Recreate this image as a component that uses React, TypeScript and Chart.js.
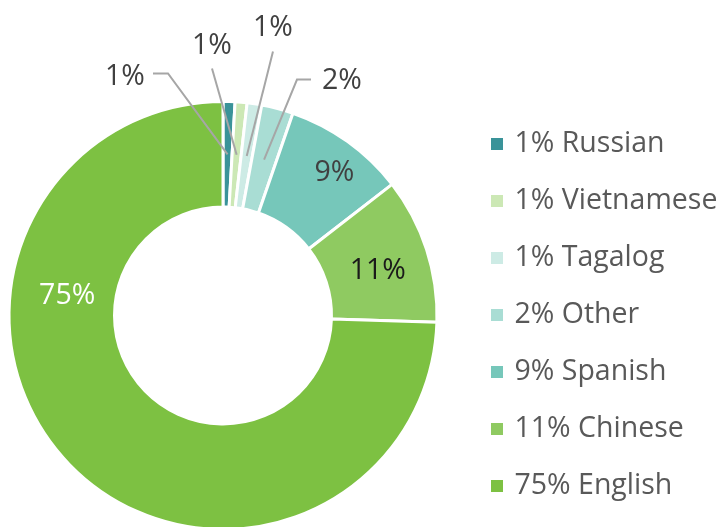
import React, { useEffect, useRef } from "react";
import { Chart, registerables } from "chart.js";
Chart.register(...registerables);

const categories = ["Russian", "Vietnamese", "Tagalog", "Other", "Spanish", "Chinese", "English"];
const values = [0.9, 0.9, 1.1, 2.4, 9.2, 11.0, 74.5];
const percentLabels = ["1%", "1%", "1%", "2%", "9%", "11%", "75%"];
const colors = ["#3A9399", "#CCE8B5", "#CDEBE5", "#A9DDD4", "#76C7BA", "#8FCA61", "#7DC142"];
const labelColors = ["#404040", "#404040", "#404040", "#404040", "#404040", "#1A1A1A", "#FFFFFF"];

// label placement (style): outside labels with leader lines, relative to doughnut centre
const outsidePlacement: Record<number, { text: [number, number]; start: [number, number]; elbow?: [number, number] }> = {
  0: { text: [-98, -239], start: [-70, -242], elbow: [-55, -242] },
  1: { text: [-11, -270], start: [-11, -247] },
  2: { text: [50, -288], start: [50, -264] },
  3: { text: [119, -235], start: [88, -236], elbow: [74, -236] },
};
// inside labels: polar (degrees clockwise from top, distance)
const insidePlacement: Record<number, [number, number]> = {
  4: [38, 181],
  5: [74, 161],
  6: [277, 157],
};

const FONT = "'Open Sans', 'Noto Sans', sans-serif";
const FONT_SIZE = 28.5;

const labelPlugin = {
  id: "customLabels",
  afterDatasetsDraw(chart: any) {
    const ctx = chart.ctx;
    const meta = chart.getDatasetMeta(0);
    ctx.save();
    ctx.font = `${FONT_SIZE}px ${FONT}`;
    ctx.textAlign = "center";
    ctx.textBaseline = "middle";
    meta.data.forEach((arc: any, i: number) => {
      const { x, y, startAngle, endAngle, innerRadius, outerRadius } = arc.getProps(
        ["x", "y", "startAngle", "endAngle", "innerRadius", "outerRadius"],
        true
      );
      const o = outsidePlacement[i];
      if (o) {
        const mid = (startAngle + endAngle) / 2;
        const r = (innerRadius + outerRadius) / 2;
        const ex = x + Math.cos(mid) * r;
        const ey = y + Math.sin(mid) * r;
        ctx.strokeStyle = "#A6A6A6";
        ctx.lineWidth = 2;
        ctx.beginPath();
        ctx.moveTo(x + o.start[0], y + o.start[1]);
        if (o.elbow) ctx.lineTo(x + o.elbow[0], y + o.elbow[1]);
        ctx.lineTo(ex, ey);
        ctx.stroke();
        ctx.fillStyle = "#404040";
        ctx.fillText(percentLabels[i], x + o.text[0], y + o.text[1]);
      } else {
        const p = insidePlacement[i];
        const a = (p[0] - 90) * Math.PI / 180;
        ctx.fillStyle = labelColors[i];
        ctx.fillText(percentLabels[i], x + Math.cos(a) * p[1], y + Math.sin(a) * p[1]);
      }
    });
    ctx.restore();
  },
  afterDraw(chart: any) {
    const ctx = chart.ctx;
    ctx.save();
    ctx.font = `${FONT_SIZE}px ${FONT}`;
    ctx.textAlign = "left";
    ctx.textBaseline = "middle";
    categories.forEach((c, i) => {
      const cy = 144 + i * 57;
      ctx.fillStyle = colors[i];
      ctx.fillRect(491, cy - 6, 12, 12);
      ctx.fillStyle = "#595959";
      ctx.fillText(`${percentLabels[i]} ${c}`, 514.5, cy);
    });
    ctx.restore();
  },
};

export default function App() {
  const ref = useRef<HTMLCanvasElement | null>(null);
  useEffect(() => {
    if (!ref.current) return;
    const chart = new Chart(ref.current, {
      type: "doughnut",
      data: {
        labels: categories,
        datasets: [
          {
            data: values,
            backgroundColor: colors,
            borderColor: "#FFFFFF",
            borderWidth: 3,
          },
        ],
      },
      options: {
        responsive: false,
        animation: false,
        cutout: "50.7%",
        layout: { padding: { left: 7.5, top: 100, right: 280.5, bottom: 14 } },
        plugins: { legend: { display: false }, tooltip: { enabled: false } },
      },
      plugins: [labelPlugin],
    });
    return () => chart.destroy();
  }, []);
  return (
    <div style={{ position: "fixed", left: 0, top: 0, width: 719, height: 527, overflow: "hidden", background: "#fff" }}>
      <canvas ref={ref} width={719} height={545} style={{ display: "block" }} />
    </div>
  );
}
